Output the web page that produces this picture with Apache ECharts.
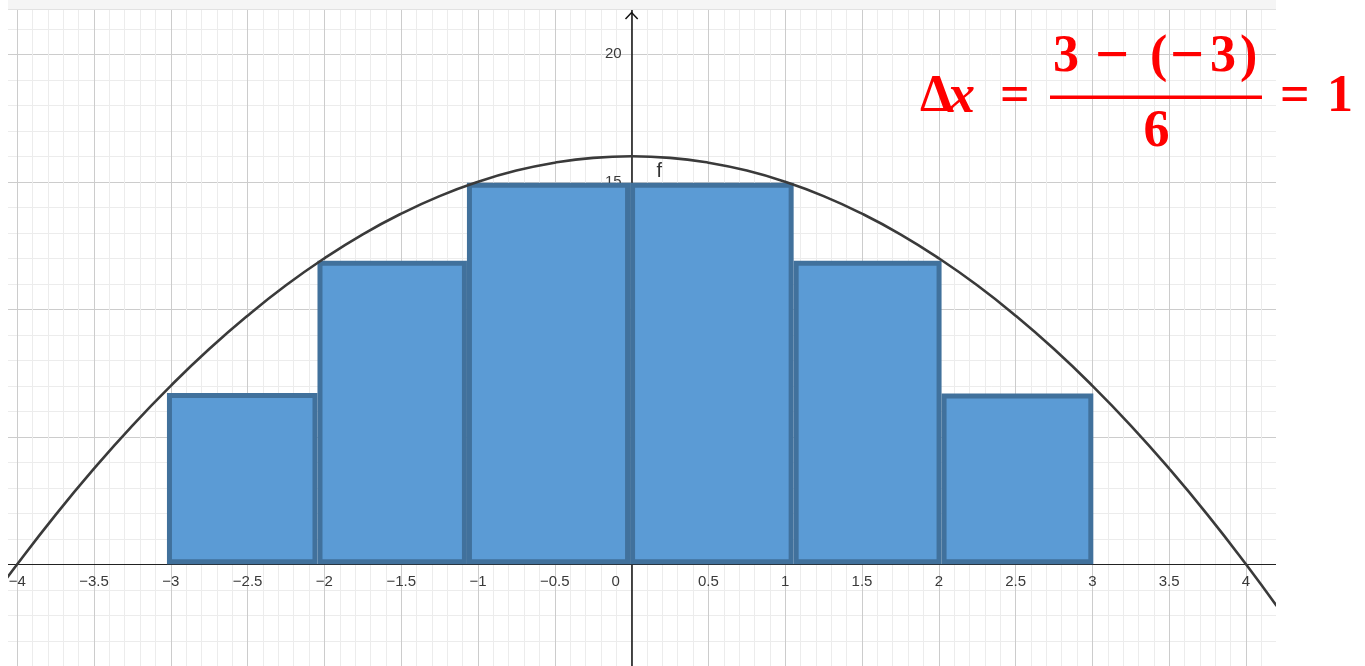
<!DOCTYPE html>
<html>
<head>
<meta charset="utf-8">
<script src="https://cdn.jsdelivr.net/npm/echarts@6/dist/echarts.min.js"></script>
<style>
html,body{margin:0;padding:0;background:#fff;}
#chart{width:1365px;height:666px;}
</style>
</head>
<body>
<div id="chart"></div>
<script>
// ---- data ----
const barStart  = [-3.025, -2.045, -1.072, -0.01, 1.055, 2.018];
const barEnd    = [-2.045, -1.072, -0.01, 1.055, 2.018, 3.006];
const barHeight = [6.72, 11.9, 14.96, 14.96, 11.9, 6.7];

const curveX = [-4.2, -4, -3.75, -3.5, -3.25, -3, -2.75, -2.5, -2.25, -2, -1.75, -1.5, -1.25, -1, -0.75, -0.5, -0.25, 0,
                0.25, 0.5, 0.75, 1, 1.25, 1.5, 1.75, 2, 2.25, 2.5, 2.75, 3, 3.25, 3.5, 3.75, 4, 4.2];
const curveY = [-1.64, 0, 1.94, 3.75, 5.44, 7, 8.44, 9.75, 10.94, 12, 12.94, 13.75, 14.44, 15, 15.44, 15.75, 15.94, 16,
                15.94, 15.75, 15.44, 15, 14.44, 13.75, 12.94, 12, 10.94, 9.75, 8.44, 7, 5.44, 3.75, 1.94, 0, -1.64];
const curveName = 'f';
const curveLabelAt = [0.18, 15.4];

const xRange = [-4.5, 4.5];
const yRange = [-5, 25];
const xStep = 0.5;
const yStep = 5;

// ---- layout (pixels) ----
const G = {left: -59.6, right: 42.2, top: -73.2, bottom: -25.8};
const W = 1365, H = 666;
const plotW = W - G.left - G.right, plotH = H - G.top - G.bottom;
// axes cross at zero: offsets of each axis from its grid edge
const xAxisOffset = -plotH * (0 - yRange[0]) / (yRange[1] - yRange[0]);
const yAxisOffset = -plotW * (0 - xRange[0]) / (xRange[1] - xRange[0]);

// ---- chart ----
const chart = echarts.init(document.getElementById('chart'), null, {renderer: 'canvas'});

const barData = barStart.map((s, i) => [s, barEnd[i], barHeight[i]]);
const curveData = curveX.map((x, i) => [x, curveY[i]]);

function fmtX(v) {
  if (Math.abs(v) > 4.2) return '';
  if (Math.abs(v) < 1e-9) return '{z|0}';
  return String(+v.toFixed(2)).replace('-', '\u2212');
}
function fmtY(v) {
  if (Math.abs(v) < 1e-9 || v > 22 || v < -4) return '';
  return String(v).replace('-', '\u2212');
}

const RED = '#ff0000';
const FF = 'bold 52px "Liberation Serif", "DejaVu Serif", serif';
const FFI = 'italic bold 54px "Liberation Serif", "DejaVu Serif", serif';
const FM = 'bold 60px "Liberation Serif", "DejaVu Serif", serif';
const baseY = 98;
function t(txt, x, y, font, align) {
  return {type: 'text', z: 110, style: {text: txt, x: x, y: y, font: font || FF, fill: RED,
          textAlign: align || 'left', textVerticalAlign: 'middle'}};
}

const labelFont = '"Liberation Sans", Arial, sans-serif';
const labelColor = '#3a3a3a';

const option = {
  animation: false,
  backgroundColor: '#ffffff',
  grid: {left: G.left, right: G.right, top: G.top, bottom: G.bottom, containLabel: false, outerBoundsMode: 'none'},
  xAxis: {
    type: 'value', min: xRange[0], max: xRange[1], interval: xStep,
    position: 'bottom', offset: xAxisOffset,
    axisLine: {show: true, onZero: false, lineStyle: {color: '#222', width: 1.2}},
    axisTick: {show: false},
    axisLabel: {show: true, margin: 10, color: labelColor, fontSize: 15, fontFamily: labelFont,
                hideOverlap: false, showMinLabel: true, showMaxLabel: true, formatter: fmtX,
                rich: {z: {padding: [0, 32, 0, 0], fontSize: 15, color: labelColor, fontFamily: labelFont}}},
    splitLine: {show: true, lineStyle: {color: '#cccccc', width: 1}},
    minorTick: {show: false, splitNumber: 5},
    minorSplitLine: {show: true, lineStyle: {color: '#ececec', width: 1}}
  },
  yAxis: {
    type: 'value', min: yRange[0], max: yRange[1], interval: yStep,
    position: 'left', offset: yAxisOffset,
    axisLine: {show: true, onZero: false, lineStyle: {color: '#111', width: 1.5}},
    axisTick: {show: false},
    axisLabel: {show: true, margin: 10, color: labelColor, fontSize: 15, fontFamily: labelFont,
                hideOverlap: false, formatter: fmtY},
    splitLine: {show: true, lineStyle: {color: '#cccccc', width: 1}},
    minorTick: {show: false, splitNumber: 5},
    minorSplitLine: {show: true, lineStyle: {color: '#ececec', width: 1}}
  },
  series: [
    {
      type: 'custom',
      z: 3,
      data: barData,
      encode: {x: [0, 1], y: 2},
      renderItem: function (params, api) {
        const lw = 5;
        const p0 = api.coord([api.value(0), api.value(2)]);
        const p1 = api.coord([api.value(1), 0]);
        return {
          type: 'rect',
          shape: {x: p0[0] + lw / 2, y: p0[1] + lw / 2, width: p1[0] - p0[0] - lw, height: p1[1] - p0[1] - lw},
          style: {fill: '#5b9bd5', stroke: '#41719c', lineWidth: lw}
        };
      }
    },
    {
      type: 'line',
      z: 4,
      data: curveData,
      smooth: 0.5,
      showSymbol: false,
      symbol: 'none',
      lineStyle: {color: '#3a3a3a', width: 2.6},
      clip: true,
      markPoint: {
        symbol: 'circle', symbolSize: 0,
        data: [{coord: curveLabelAt, value: curveName}],
        label: {show: true, position: 'inside', formatter: curveName, color: '#333', fontSize: 20,
                fontFamily: labelFont}
      }
    }
  ],
  graphic: {
    elements: [
      {type: 'rect', z: 100, shape: {x: 0, y: 0, width: 8, height: 666}, style: {fill: '#ffffff'}},
      {type: 'rect', z: 100, shape: {x: 1276, y: 0, width: 89, height: 666}, style: {fill: '#ffffff'}},
      {type: 'rect', z: 100, shape: {x: 8, y: 0, width: 1268, height: 9.5}, style: {fill: '#f5f5f5'}},
      {type: 'line', z: 101, shape: {x1: 8, y1: 9.5, x2: 1276, y2: 9.5}, style: {stroke: '#e2e2e2', lineWidth: 1}},
      {type: 'polyline', z: 101, shape: {points: [[625.5, 19], [631.6, 12.5], [637.7, 19]]},
       style: {stroke: '#111', lineWidth: 1.5, fill: null}},
      t('\u0394', 920, baseY),
      t('x', 948, baseY, FFI),
      t('=', 1000, baseY),
      t('3', 1053, baseY - 40),
      t('\u2212', 1095, baseY - 40, FM),
      t('(', 1150, baseY - 40),
      t('\u2212', 1170, baseY - 40, FM),
      t('3', 1210, baseY - 40),
      t(')', 1240, baseY - 40),
      {type: 'rect', z: 110, shape: {x: 1050, y: 95.5, width: 212, height: 3.5}, style: {fill: RED}},
      t('6', 1156.5, baseY + 35, FF, 'center'),
      t('=', 1280, baseY),
      t('1', 1327, baseY)
    ]
  }
};
chart.setOption(option);
</script>
</body>
</html>
